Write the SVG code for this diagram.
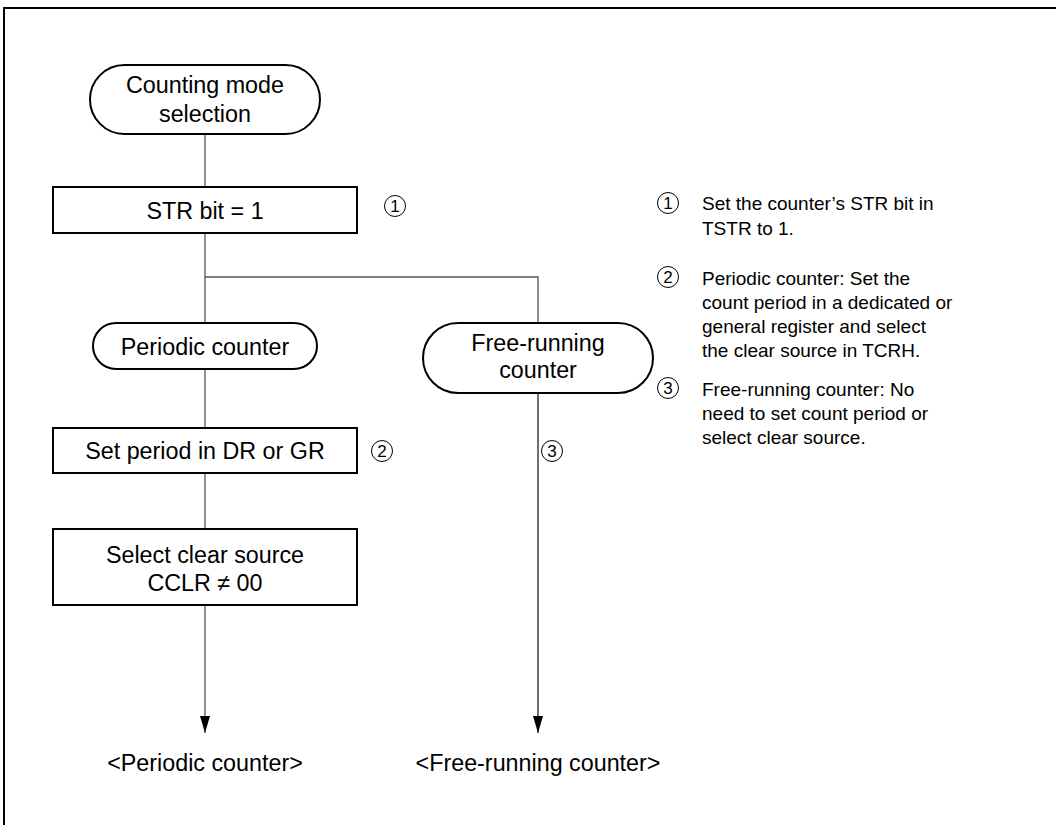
<svg xmlns="http://www.w3.org/2000/svg" width="1056" height="825" viewBox="0 0 1056 825">
  <style>
    .box { fill: #fff; stroke: #000; stroke-width: 2; }
    .t { font-family: "Liberation Sans", Arial, sans-serif; font-size: 23.3px; fill: #000; text-anchor: middle; }
    .n { font-family: "Liberation Sans", Arial, sans-serif; font-size: 19px; fill: #000; }
    .cn { font-family: "Liberation Sans", Arial, sans-serif; font-size: 17px; fill: #000; text-anchor: middle; }
    .circ { fill: none; stroke: #000; stroke-width: 1; }
    .line { fill: none; stroke: #555; stroke-width: 1.3; }
  </style>
  <defs>
    <marker id="arrow" markerUnits="userSpaceOnUse" markerWidth="18" markerHeight="10" refX="17" refY="5" orient="auto" viewBox="0 0 18 10">
      <path d="M0,0 L17,5 L0,10 Z" fill="#000"/>
    </marker>
  </defs>
  <rect width="1056" height="825" fill="#fff"/>
  <path d="M4,830 V8 H1060" fill="none" stroke="#000" stroke-width="2"/>

  <g id="connectors">
    <path class="line" d="M205,134 V187"/>
    <path class="line" d="M205,233 V323"/>
    <path class="line" d="M205,277 H538 V323"/>
    <path class="line" d="M205,369 V428"/>
    <path class="line" d="M205,473 V529"/>
    <path class="line" d="M205,605 V733" marker-end="url(#arrow)"/>
    <path class="line" d="M538,393 V733" marker-end="url(#arrow)" style="stroke:#222"/>
  </g>

  <g id="n_start">
    <rect class="box" x="90" y="65" width="230" height="69" rx="34.5"/>
    <text class="t" x="205" y="93">Counting mode</text>
    <text class="t" x="205" y="122">selection</text>
  </g>
  <g id="n_str">
    <rect class="box" x="53" y="187" width="304" height="46"/>
    <text class="t" x="205" y="219">STR bit = 1</text>
  </g>
  <g id="n_periodic">
    <rect class="box" x="93" y="323" width="224" height="46" rx="23"/>
    <text class="t" x="205" y="355">Periodic counter</text>
  </g>
  <g id="n_free">
    <rect class="box" x="423" y="323" width="230" height="70" rx="35"/>
    <text class="t" x="538" y="351">Free-running</text>
    <text class="t" x="538" y="378">counter</text>
  </g>
  <g id="n_setperiod">
    <rect class="box" x="53" y="428" width="304" height="45"/>
    <text class="t" x="205" y="459">Set period in DR or GR</text>
  </g>
  <g id="n_clear">
    <rect class="box" x="53" y="529" width="304" height="76"/>
    <text class="t" x="205" y="563">Select clear source</text>
    <text class="t" x="205" y="591">CCLR ≠ 00</text>
  </g>
  <g id="n_end_periodic">
    <text class="t" x="205" y="771">&lt;Periodic counter&gt;</text>
  </g>
  <g id="n_end_free">
    <text class="t" x="538" y="771">&lt;Free-running counter&gt;</text>
  </g>

  <g id="marks">
    <circle class="circ" cx="395" cy="206" r="10.5"/>
    <text class="cn" x="395" y="212">1</text>
    <circle class="circ" cx="382" cy="451" r="10.5"/>
    <text class="cn" x="382" y="457">2</text>
    <circle class="circ" cx="552" cy="451" r="10.5"/>
    <text class="cn" x="552" y="457">3</text>
  </g>

  <g id="notes">
    <circle class="circ" cx="668" cy="203" r="10.5"/>
    <text class="cn" x="668" y="209">1</text>
    <text class="n" x="702" y="210">Set the counter’s STR bit in</text>
    <text class="n" x="702" y="235">TSTR to 1.</text>

    <circle class="circ" cx="668" cy="277" r="10.5"/>
    <text class="cn" x="668" y="283">2</text>
    <text class="n" x="702" y="285">Periodic counter: Set the</text>
    <text class="n" x="702" y="309">count period in a dedicated or</text>
    <text class="n" x="702" y="333">general register and select</text>
    <text class="n" x="702" y="357">the clear source in TCRH.</text>

    <circle class="circ" cx="668" cy="388" r="10.5"/>
    <text class="cn" x="668" y="394">3</text>
    <text class="n" x="702" y="396">Free-running counter: No</text>
    <text class="n" x="702" y="420">need to set count period or</text>
    <text class="n" x="702" y="444">select clear source.</text>
  </g>
</svg>
